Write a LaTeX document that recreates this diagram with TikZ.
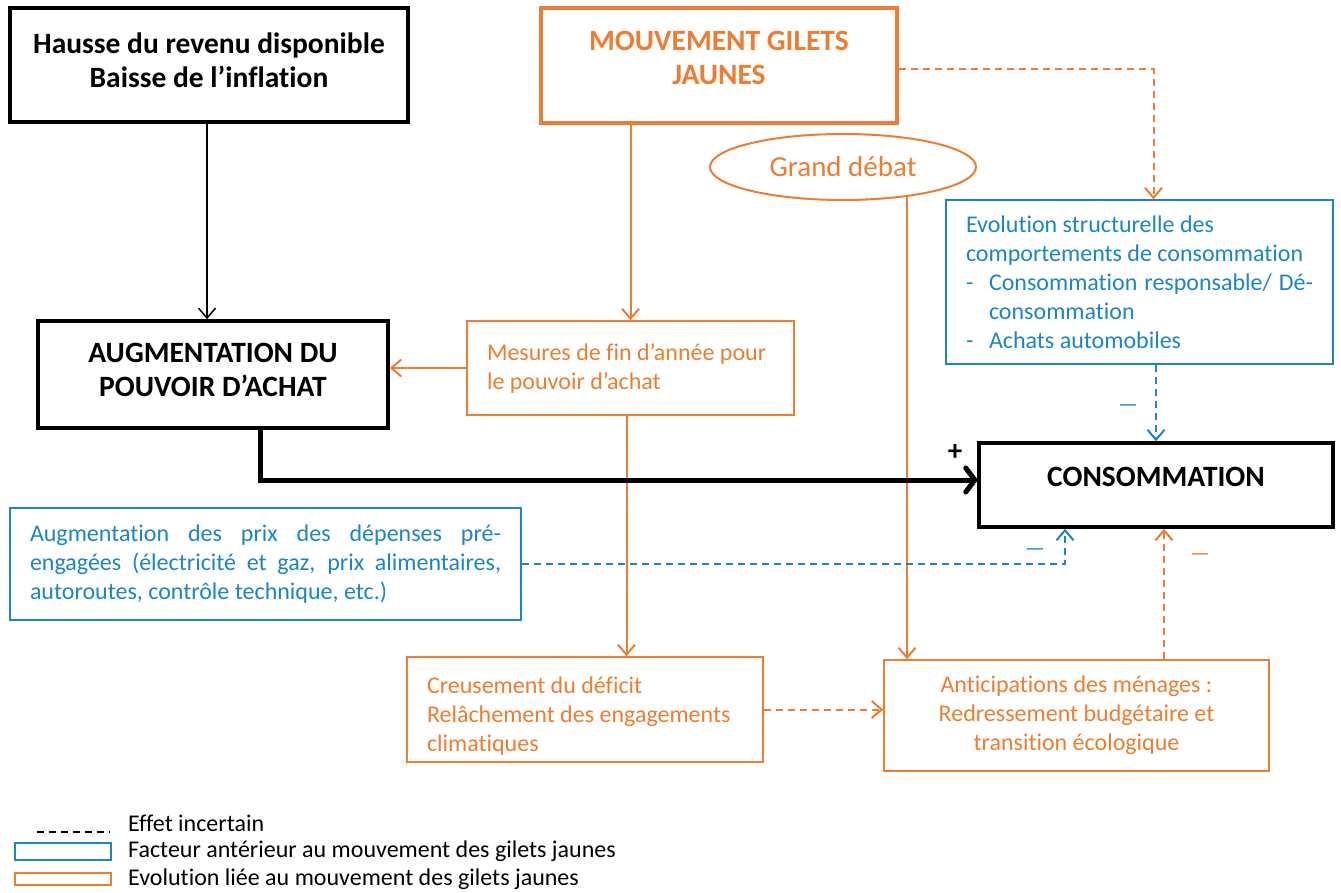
\documentclass[tikz,border=0pt]{standalone}
\usepackage{fontspec}
\setmainfont{Carlito}[Ligatures={NoCommon}]
\usetikzlibrary{shapes,arrows.meta}
\definecolor{gjorange}{RGB}{237,125,49}
\definecolor{gjblue}{RGB}{27,134,193}

\begin{document}
\begin{tikzpicture}[x=1pt,y=-1pt]
    \tikzstyle{every node}=[execute at begin node={\spaceskip=0pt\xspaceskip=0pt\relax}]
    \tikzstyle{bigbox}=[rectangle,draw,line width=3.5pt,align=center,font=\fontsize{29.5}{34}\selectfont\bfseries]
    \tikzstyle{smallbox}=[rectangle,draw,line width=1.5pt,inner xsep=20pt,font=\fontsize{24}{29}\selectfont]
    \tikzstyle{orangebox}=[smallbox,draw=gjorange,text=gjorange]
    \tikzstyle{bluebox}=[smallbox,draw=gjblue,text=gjblue]
    \tikzstyle{link}=[line width=2pt,-{Straight Barb[length=10pt,width=17pt]}]
    \tikzstyle{dashlink}=[link,dash pattern=on 7pt off 5pt]
    \tikzstyle{sign}=[inner sep=0pt,font=\fontsize{22}{24}\selectfont]
    \useasboundingbox (0,0) rectangle (1341,893);
    % boxes
    \node[bigbox,minimum width=398pt,minimum height=114pt,text depth=10pt] (hausse) at (209,65) {Hausse du revenu disponible\\Baisse de l’inflation};
    \node[bigbox,draw=gjorange,text=gjorange,minimum width=356pt,minimum height=115pt,text depth=16pt] (gilets) at (719,65.5) {MOUVEMENT GILETS\\JAUNES};
    \node[ellipse,draw=gjorange,line width=2pt,text=gjorange,minimum width=266pt,minimum height=66pt,inner sep=0pt,font=\fontsize{29}{34}\selectfont] (debat) at (843,167) {Grand débat};
    \node[bluebox,text width=347pt,align=left,minimum height=164pt] (evol) at (1139.5,282) {Evolution structurelle des\\comportements de consommation\\\makebox[347pt][s]{\makebox[23pt][l]{-}Consommation responsable/ Dé-}\\\hspace*{23pt}consommation\\\makebox[23pt][l]{-}Achats automobiles};
    \node[bigbox,minimum width=350pt,minimum height=107pt,text depth=10pt] (augm) at (213,374.5) {AUGMENTATION DU\\POUVOIR D’ACHAT};
    \node[orangebox,text width=287pt,align=left,minimum height=94pt] (mesures) at (630.5,368) {Mesures de fin d’année pour\\le pouvoir d’achat};
    \node[bigbox,minimum width=354pt,minimum height=84pt,text depth=17pt] (conso) at (1156,485) {CONSOMMATION};
    \node[bluebox,text width=471pt,align=justify,minimum height=112pt] (prix) at (265.5,564) {\tolerance=10000 Augmentation des prix des dépenses pré-\linebreak engagées (électricité et gaz, prix alimentaires,\linebreak autoroutes, contrôle technique, etc.)};
    \node[orangebox,text width=316pt,align=left,minimum height=105pt,text height=29pt] (creus) at (585,709.5) {Creusement du déficit\\Relâchement des engagements\\climatiques};
    \node[orangebox,align=center,minimum width=385pt,minimum height=111pt] (antic) at (1076.5,715.5) {Anticipations des ménages :\\Redressement budgétaire et\\transition écologique};
    % links
    \draw[link,line width=1.5pt] ([xshift=-2pt]hausse.south) -- ([xshift=-2pt]hausse.south |- augm.north);
    \draw[link,gjorange] (mesures.north |- gilets.south) -- (mesures.north);
    \draw[link,gjorange] (mesures.west) -- (mesures.west -| augm.east);
    \draw[link,gjorange] ([xshift=-4pt]mesures.south) -- ([xshift=-4pt]mesures.south |- creus.north);
    \draw[link,gjorange] (debat.-25) -- (debat.-25 |- antic.north);
    \draw[dashlink,gjorange] ([yshift=-4pt]gilets.east) -| ([xshift=14pt]evol.north);
    \draw[dashlink,gjblue] (evol.south -| conso.north) -- (conso.north);
    \draw[dashlink,gjorange] (creus.east) -- (creus.east -| antic.west);
    \draw[dashlink,gjorange] ([xshift=8pt]conso.south |- antic.north) -- ([xshift=8pt]conso.south);
    \draw[dashlink,gjblue] (prix.east) -| ([xshift=-91pt]conso.south);
    \draw[line width=5pt,-{Straight Barb[round,length=9pt,width=24pt]}] ([xshift=47pt]augm.south) |- ([yshift=5pt]conso.west);
    % signs
    \node[sign,font=\fontsize{29}{34}\selectfont\bfseries] (plus) at (955,452) {+};
    \node[sign,text=gjblue] (minus1) at (1128,408) {—};
    \node[sign,text=gjblue] (minus2) at (1035,552) {—};
    \node[sign,text=gjorange] (minus3) at (1200,557) {—};
    % legend
    \draw[line width=1.8pt,dash pattern=on 7pt off 5pt] (37,832) -- (110,832);
    \draw[gjblue,line width=2pt] (15,843) rectangle (111,860);
    \draw[gjorange,line width=2pt] (15,873) rectangle (111,885);
    \node[anchor=west,inner sep=0pt,font=\fontsize{24}{28}\selectfont] (leg1) at (128,823) {Effet incertain};
    \node[anchor=west,inner sep=0pt,font=\fontsize{24}{28}\selectfont] (leg2) at (128,851) {Facteur antérieur au mouvement des gilets jaunes};
    \node[anchor=west,inner sep=0pt,font=\fontsize{24}{28}\selectfont] (leg3) at (128,879) {Evolution liée au mouvement des gilets jaunes};
\end{tikzpicture}
\end{document}
